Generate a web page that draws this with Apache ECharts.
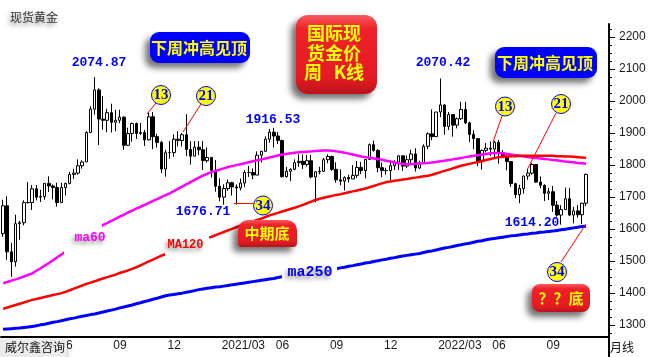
<!DOCTYPE html>
<html><head><meta charset="utf-8">
<script src="https://cdn.jsdelivr.net/npm/echarts@6/dist/echarts.min.js"></script>
<style>html,body{margin:0;padding:0;background:#fff}#c{width:650px;height:357px}</style>
</head><body><div id="c"></div>
<script>
// ---- weekly categories (Fridays), first week and count incl. blank future weeks
const firstWeek = '2020-03-06';
const totalWeeks = 146;

// ---- weekly candles (spot gold), Mar 6 2020 ... Nov 11 2022
const wkOpen = [
1586,1673,1529,1498,1617,1620,1683,1683,1726,1700,1702,1743,1735,1730,1683,1730,1743,1771,1775,1798,
1810,1902,1975,2035,1944,1940,1964,1934,1940,1950,1862,1899,1930,1899,1902,1879,1951,1889,1871,1788,
1839,1839,1881,1877,1895,1849,1828,1856,1848,1814,1824,1784,1734,1700,1727,1745,1732,1729,1744,1777,
1777,1769,1831,1843,1881,1903,1891,1877,1764,1781,1787,1808,1812,1802,1814,1763,1779,1781,1817,1827,
1787,1754,1750,1761,1757,1768,1793,1783,1818,1864,1846,1792,1783,1783,1798,1809,1829,1797,1817,1835,
1791,1807,1859,1898,1889,1966,1988,1921,1958,1925,1945,1974,1932,1896,1883,1811,1846,1853,1850,1871,
1839,1826,1811,1742,1708,1727,1766,1775,1802,1747,1737,1712,1717,1675,1644,1661,1695,1644,1657,1645,
1681];
const wkClose = [
1673,1529,1498,1617,1620,1683,1683,1726,1700,1702,1743,1735,1730,1683,1730,1743,1771,1775,1798,1810,
1902,1975,2035,1944,1940,1964,1934,1940,1950,1862,1899,1930,1899,1902,1879,1951,1889,1871,1788,1839,
1839,1881,1877,1895,1849,1828,1856,1848,1814,1824,1784,1734,1700,1727,1745,1732,1729,1744,1777,1777,
1769,1831,1843,1881,1903,1891,1877,1764,1781,1787,1808,1812,1802,1814,1763,1779,1781,1817,1827,1787,
1754,1750,1761,1757,1768,1793,1783,1818,1864,1846,1792,1783,1783,1798,1809,1829,1797,1817,1835,1791,
1807,1859,1898,1889,1966,1988,1921,1958,1925,1945,1974,1932,1896,1883,1811,1846,1853,1850,1871,1839,
1826,1811,1742,1708,1727,1766,1775,1802,1747,1737,1712,1717,1675,1644,1661,1695,1644,1657,1645,1681,
1771];
const wkLow = [
1576,1504,1451,1483,1567,1612,1680,1660,1690,1685,1692,1716,1693,1670,1685,1705,1740,1757,1770,1789,
1810,1900,1958,1863,1911,1903,1902,1906,1931,1848,1860,1873,1882,1894,1860,1877,1850,1855,1775,1764,
1820,1826,1859,1858,1828,1802,1828,1831,1785,1808,1761,1717,1687,1676.71,1720,1705,1677,1721,1731,1763,
1756,1769,1808,1843,1870,1855,1866,1761,1761,1750,1784,1795,1788,1796,1759,1684,1771,1779,1806,1782,
1745,1737,1721,1746,1757,1760,1772,1759,1816,1842,1778,1762,1770,1753,1785,1785,1782,1791,1805,1780,
1788,1806,1850,1878,1889,1950,1895,1910,1889,1915,1941,1928,1872,1850,1797,1786,1840,1829,1825,1805,
1822,1784,1732,1697,1681,1711,1754,1770,1745,1728,1688,1691,1654,1639,1614.2,1660,1641,1618,1636,1616,
1672];
const wkHigh = [
1692,1703,1557,1645,1626,1690,1747,1738,1738,1723,1743,1765,1740,1745,1745,1745,1779,1789,1818,1815,
1906,1984,2074.87,2040,2016,1976,1992,1973,1973,1952,1917,1933,1933,1932,1910,1965,1966,1898,1875,1848,
1875,1896,1906,1900,1959,1875,1875,1875,1875,1855,1825,1816,1759,1740,1755,1748,1740,1758,1784,1797,
1790,1843,1845,1890,1913,1916.53,1903,1880,1795,1790,1818,1834,1833,1832,1832,1782,1795,1823,1834,1830,
1809,1787,1765,1770,1800,1813,1810,1818,1868,1877,1850,1808,1792,1815,1815,1831,1830,1830,1848,1853,
1814,1865,1902,1974,1966,2070.42,1990,1966,1960,1949,1998,1998,1936,1909,1884,1849,1869,1874,1876,1879,
1847,1830,1812,1745,1739,1767,1788,1807,1802,1765,1740,1729,1735,1688,1675,1730,1729,1670,1675,1682,
1774];

// ---- moving averages
const ma60 = [
1431,1435,1439,1443,1447,1452,1457,1462,1470,1478,1486,1494,1503,1512,1521,
1530,1539,1548,1557,1566,1575,1584,1593,1603,1613,
1619,1626,1632,1639,1645,1652,1658,1664,1670,1676,1682,1688,1694,1700,1706,1712,1719,1726,1733,1740,1747,1754,1761,1767,1773,1778,1782,1786,
1790,1794,1797,1800,1803,1806,1809,1812,1815,
1818,1821,1824,1827,1830,1833,1835,1837,1839,1840,1841,1842,1843,1844,1845,1846,1846,
1845,1843,1841,1839,1836,1833,1830,1827,1825,1823,1821,1819,1817,1814,1811,1808,1805,
1804,1803,1803,1804,1805,1806,1807,1808,
1810,1812,1814,1816,1818,1820,1822,1825,1827,1829,1831,1833,1835,1837,1838,
1838,1837,1835,1833,1831,1829,1827,1825,1823,1822,1821,1819,1818,1816,1815,1813,1811,1810,1809,1807,1806,1804];
const ma120 = [
1351,1355,1359,1363,1367,1371,1375,1379,
1382,1385,1388,1391,1394,1397,1400,1404,
1409,1414,1419,1424,1429,1433,1437,1442,
1446,1450,1454,1458,1463,1467,1471,1476,
1481,1487,1493,1499,1505,1511,1517,
1522,1527,1532,1537,1542,1547,1552,1557,1562,1567,1572,
1576,1581,1586,1591,1596,1601,1606,1611,1616,1621,1625,1629,1633,1638,
1643,1647,1651,1655,1659,1663,1667,1671,1676,1681,1686,1691,
1695,1698,1701,1704,1707,1709,1712,1715,1718,1721,1724,1727,1731,1735,1739,1743,1747,
1749,1751,1753,1755,1757,1759,1761,1763,1765,1767,1770,
1774,1778,1782,1786,1790,1794,1798,1801,1804,1807,1810,1813,1816,1819,1822,1825,
1826,1827,1828,1828,1829,1829,1829,1829,1829,1829,1829,1829,1829,1828,1828,1827,1827,1826,1825,1824,1823];
const ma250 = [
1287,1288,1289,1290,1291,1293,1294,1296,
1298,1301,1303,1306,1309,1311,1314,1317,
1320,1322,1325,1328,1330,1333,1335,1338,
1341,1344,1347,1350,1354,1357,1360,1363,
1367,1370,1374,1377,1381,1384,1388,1392,
1394,1396,1398,1400,1403,1405,1408,1411,
1413,1415,1417,1419,1420,1422,1424,1426,
1428,1430,1432,1434,1436,1438,1440,1442,1444,1446,1449,
1451,1453,1455,1457,1459,1461,1463,1465,1467,1469,1471,1472,1474,1476,
1479,1481,1484,1486,1489,1491,1494,1496,1499,1501,1504,1506,1509,1511,1514,
1516,1518,1520,1522,1524,1527,1530,1532,1535,1538,1541,1543,1546,
1549,1551,1554,1556,1559,1562,1564,1567,1569,1571,1573,1575,1577,1579,1580,1582,
1584,1585,1587,1588,1590,1591,1593,1594,1596,1598,1600,1602,1604,1606,1608,1609];

// ---- y axis ticks
const yLabels = [1300,1400,1500,1600,1700,1800,1900,2000,2100,2200];
const yMinorTicks = [1275,1300,1325,1350,1375,1400,1425,1450,1475,1500,1525,1550,1575,1600,1625,1650,1675,1700,1725,1750,1775,1800,1825,1850,1875,1900,1925,1950,1975,2000,2025,2050,2075,2100,2125,2150,2175,2200,2225];

// ---- build categories
const dates = [];
{
  const t0 = Date.parse(firstWeek + 'T00:00:00Z');
  for (let i = 0; i < totalWeeks; i++) {
    const d = new Date(t0 + i * 7 * 86400000);
    dates.push(d.toISOString().slice(0, 10));
  }
}
const lastData = wkClose.length - 1;
const majorSet = new Set(), minorSet = new Set();
const majors = [];
dates.forEach((s, i) => {
  const m = +s.slice(5, 7), d = +s.slice(8, 10);
  if (d <= 7 && m % 3 === 0) majors.push(i);
});
for (let k = 0; k < majors.length; k++) {
  const a = majors[k], b = k + 1 < majors.length ? majors[k + 1] : a + 13;
  if (a <= lastData) majorSet.add(a); else minorSet.add(a);
  for (let j = 1; j <= 3; j++) { const t = a + Math.round((b - a) * j / 4); if (t < totalWeeks) minorSet.add(t); }
}
function xLabel(i) {
  const s = dates[i], m = s.slice(5, 7);
  return m === '03' ? s.slice(0, 4) + '/' + m : m;
}
const candles = wkOpen.map((o, i) => [o, wkClose[i], wkLow[i], wkHigh[i]]);

const CJK = '"Noto Sans CJK SC"';
const yellow = '#ffff00';
function txt(text, x, y, o) {
  return { type: 'text', x: x, y: y, z: 120, style: Object.assign({ text: text, align: 'center', verticalAlign: 'middle' }, o) };
}
function redGrad() {
  return { type: 'linear', x: 0, y: 0, x2: 0, y2: 1, colorStops: [
    { offset: 0, color: '#f65a60' }, { offset: 0.18, color: '#ee2128' }, { offset: 0.8, color: '#e51b23' }, { offset: 1, color: '#b8131a' }] };
}
const shadow = { shadowBlur: 6, shadowOffsetX: -5, shadowOffsetY: 5, shadowColor: 'rgba(0,0,0,0.55)' };
function circle(cx, cy, label) {
  return [
    { type: 'circle', z: 115, shape: { cx: cx, cy: cy, r: 9.5 }, style: { fill: yellow, stroke: '#0000ff', lineWidth: 1 } },
    txt(label, cx, cy + 0.5, { fill: '#0000ff', font: 'bold 15px "Liberation Serif"' })
  ];
}
function leader(x1, y1, x2, y2) {
  return { type: 'line', z: 110, shape: { x1: x1, y1: y1, x2: x2, y2: y2 }, style: { stroke: '#ff0000', lineWidth: 1 } };
}
const priceFont = 'bold 13px "Liberation Mono"';
const maShadow = { textShadowColor: 'rgba(0,0,0,0.45)', textShadowBlur: 4, textShadowOffsetX: -2, textShadowOffsetY: 3 };

const graphics = [].concat(
  [txt('现货黄金', 10, 17.5, Object.assign({ align: 'left', fill: '#333', font: '12px ' + CJK }, maShadow))],
  [{ type: 'rect', z: 105, shape: { x: 150, y: 32, width: 100, height: 31, r: 9 }, style: Object.assign({ fill: '#0000ff' }, shadow) },
   txt('下周冲高见顶', 199, 48, { fill: yellow, font: 'bold 16px ' + CJK }),
   { type: 'rect', z: 105, shape: { x: 495, y: 47, width: 102, height: 31, r: 9 }, style: Object.assign({ fill: '#0000ff' }, shadow) },
   txt('下周冲高见顶', 545, 63, { fill: yellow, font: 'bold 16px ' + CJK })],
  [{ type: 'rect', z: 105, shape: { x: 296, y: 15, width: 81, height: 79, r: 12 }, style: Object.assign({ fill: redGrad() }, shadow) },
   txt('国际现', 334, 33.5, { fill: yellow, font: 'bold 18px ' + CJK }),
   txt('货金价', 334, 53, { fill: yellow, font: 'bold 18px ' + CJK }),
   txt('周', 304, 72.5, { align: 'left', fill: yellow, font: 'bold 18px ' + CJK }),
   txt('K线', 364, 72.5, { align: 'right', fill: yellow, font: 'bold 18px ' + CJK })],
  [txt('2074.87', 99, 62.5, { fill: '#0000ff', font: priceFont }),
   txt('2070.42', 443, 62.5, { fill: '#0000ff', font: priceFont }),
   txt('1916.53', 273, 120, { fill: '#0000ff', font: priceFont }),
   txt('1676.71', 203, 212, { fill: '#0000ff', font: priceFont }),
   txt('1614.20', 532, 223, { fill: '#0000ff', font: priceFont })],
  [leader(156, 103, 147, 114), leader(201, 104, 183, 132), leader(253, 203.5, 234, 203.5),
   leader(502, 116, 493, 142), leader(556, 113, 527, 170), leader(561, 262, 586, 224)],
  circle(161, 95, '13'), circle(206, 96, '21'), circle(263, 205.5, '34'),
  circle(505, 106.5, '13'), circle(561, 104, '21'), circle(557, 272, '34'),
  [{ type: 'rect', z: 104, shape: { x: 64, y: 223, width: 38, height: 34 }, style: { fill: '#fff' } },
   txt('ma60', 90, 237.5, Object.assign({ fill: '#ff00ff', font: 'bold 13px "Liberation Mono"' }, maShadow)),
   { type: 'rect', z: 104, shape: { x: 165, y: 233, width: 44, height: 26 }, style: { fill: '#fff' } },
   txt('MA120', 185.5, 245, Object.assign({ fill: '#ff0000', font: 'bold 12px "Liberation Mono"' }, maShadow)),
   { type: 'rect', z: 104, shape: { x: 282, y: 262, width: 55, height: 20 }, style: { fill: '#fff' } },
   txt('ma250', 310, 272.5, Object.assign({ fill: '#0000ff', font: 'bold 15px "Liberation Mono"' }, maShadow))],
  [{ type: 'rect', z: 105, shape: { x: 238, y: 220, width: 59, height: 27, r: [10, 10, 4, 4] }, style: Object.assign({ fill: redGrad() }, shadow) },
   txt('中期底', 267, 233, { fill: yellow, font: 'bold 15px ' + CJK }),
   { type: 'rect', z: 105, shape: { x: 532, y: 284, width: 58, height: 28, r: 8 }, style: Object.assign({ fill: redGrad() }, shadow) },
   txt('？？底', 561, 298, { fill: yellow, font: 'bold 15px ' + CJK })],
  [{ type: 'rect', z: 105, shape: { x: 0, y: 339, width: 67, height: 18 }, style: { fill: '#ebebeb', shadowBlur: 4, shadowOffsetX: 0, shadowOffsetY: 2, shadowColor: 'rgba(0,0,0,0.35)' } },
   txt('威尔鑫咨询', 5, 347, { align: 'left', fill: '#111', font: '12px ' + CJK }),
   txt('月线', 610, 347, { align: 'left', fill: '#111', font: '12px ' + CJK }),
   { type: 'line', z: 110, shape: { x1: 609, y1: 336, x2: 609, y2: 357 }, style: { stroke: '#000', lineWidth: 2 } }]
);

const chart = echarts.init(document.getElementById('c'), null, { renderer: 'canvas' });
chart.setOption({
  animation: false,
  backgroundColor: '#fff',
  grid: { left: 1, right: 41, top: 24, bottom: 20, containLabel: false, outerBoundsMode: 'none' },
  xAxis: [{
    type: 'category', data: dates, boundaryGap: true,
    axisLine: { lineStyle: { color: '#000', width: 2 } },
    axisTick: { alignWithLabel: true, length: 13, interval: (i) => majorSet.has(i), lineStyle: { color: '#000', width: 1 } },
    axisLabel: { interval: (i) => majorSet.has(i), formatter: (v, i) => xLabel(i), align: 'left', margin: 3, padding: [0, 0, 0, 2], color: '#1a1a1a', fontSize: 12, fontFamily: '"Liberation Sans", Arial' },
    splitLine: { show: false }
  }, {
    type: 'category', data: dates, boundaryGap: true, position: 'bottom',
    axisLine: { show: false },
    axisTick: { alignWithLabel: true, length: 3, interval: (i) => minorSet.has(i), lineStyle: { color: '#000', width: 1 } },
    axisLabel: { show: false }, splitLine: { show: false }
  }],
  yAxis: [{
    type: 'value', position: 'right', min: 1263, max: 2241, scale: true,
    axisLine: { show: true, lineStyle: { color: '#000', width: 2 } },
    axisTick: { show: true, length: 3, customValues: yMinorTicks, lineStyle: { color: '#000' } },
    axisLabel: { customValues: yLabels, formatter: (v) => String(v), margin: 10, color: '#1a1a1a', fontSize: 12, fontFamily: '"Liberation Sans", Arial' },
    splitLine: { show: false }
  }, {
    type: 'value', position: 'right', min: 1263, max: 2241, scale: true,
    axisLine: { show: false },
    axisTick: { show: true, length: 6, customValues: yLabels, lineStyle: { color: '#000' } },
    axisLabel: { show: false }, splitLine: { show: false }
  }],
  series: [{
    type: 'candlestick', data: candles, barWidth: 3, z: 2,
    itemStyle: { color: '#ffffff', color0: '#000000', borderColor: '#000000', borderColor0: '#000000', borderWidth: 1 }
  }, {
    type: 'line', data: ma60, symbol: 'none', z: 5, lineStyle: { color: '#ff00ff', width: 2.5 }
  }, {
    type: 'line', data: ma120, symbol: 'none', z: 5, lineStyle: { color: '#ff0000', width: 2.5 }
  }, {
    type: 'line', data: ma250, symbol: 'none', z: 5, lineStyle: { color: '#0000ff', width: 3 }
  }],
  graphic: { elements: graphics }
});
</script></body></html>
